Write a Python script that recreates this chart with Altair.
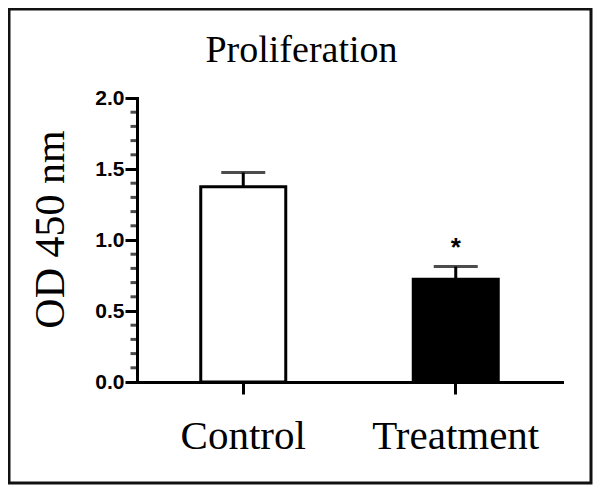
import altair as alt
import pandas as pd

groups = ["Control", "Treatment"]
means = [1.375, 0.723]
errors = [0.10, 0.09]
fills = ["white", "black"]
sig = ["", "*"]
y_major = [0.0, 0.5, 1.0, 1.5, 2.0]
y_minor = [0.1, 0.2, 0.3, 0.4, 0.6, 0.7, 0.8, 0.9, 1.1, 1.2, 1.3, 1.4, 1.6, 1.7, 1.8, 1.9]

df = pd.DataFrame({
    "group": groups,
    "mean": means,
    "upper": [m + e for m, e in zip(means, errors)],
    "fill": fills,
    "sig": sig,
})
minor_df = pd.DataFrame({"v": y_minor})
frame_df = pd.DataFrame({"a": [0]})

yscale = alt.Scale(domain=[0, 2], nice=False, zero=True)
yaxis = alt.Axis(
    values=y_major, format=".1f", title="OD 450 nm",
    titleFont="Liberation Serif", titleFontSize=42, titleFontWeight="normal",
    titleColor="black", titleAngle=270, titleX=-74, titleY=131,
    titleBaseline="alphabetic", titleAlign="center",
    labelFont="Liberation Sans", labelFontSize=21, labelFontWeight="bold",
    labelColor="black", labelPadding=1,
    tickSize=12, tickWidth=3, tickColor="black",
    domainWidth=3, domainColor="black", domainCap="square", grid=False,
)
xscale = alt.Scale(paddingInner=0.6, paddingOuter=0.3)
xaxis = alt.Axis(
    title=None, labelAngle=0, labelFont="Liberation Serif", labelFontSize=41,
    labelColor="black", labelPadding=22, tickSize=12, tickWidth=3,
    tickColor="black", domainWidth=3, domainColor="black", domainCap="square",
)
X = alt.X("group:N", sort=groups, scale=xscale, axis=xaxis)

base = alt.Chart(df)
bars = base.mark_bar(stroke="black", strokeWidth=3).encode(
    x=X, y=alt.Y("mean:Q", scale=yscale, axis=yaxis),
    fill=alt.Fill("fill:N", scale=None),
)
err = base.mark_rule(strokeWidth=3, color="black").encode(
    x=X, y=alt.Y("mean:Q", scale=yscale, axis=yaxis), y2="upper:Q"
)
cap = base.mark_tick(thickness=3, size=44, color="black", orient="horizontal").encode(
    x=X, y=alt.Y("upper:Q", scale=yscale, axis=yaxis)
)
star = base.mark_text(font="Liberation Sans", fontSize=26, fontWeight="bold",
                      baseline="alphabetic", dy=-11, color="black").encode(
    x=X, y=alt.Y("upper:Q", scale=yscale, axis=yaxis), text="sig:N"
)
minor = alt.Chart(minor_df).mark_tick(thickness=3, size=7, color="black",
                                      orient="horizontal", clip=False).encode(
    y=alt.Y("v:Q", scale=yscale, axis=yaxis), x=alt.value(-3)
)
frame = alt.Chart(frame_df).mark_rect(fillOpacity=0, stroke="#111", strokeWidth=3, clip=False).encode(
    x=alt.value(-128), x2=alt.value(454), y=alt.value(-89), y2=alt.value(385)
)

chart = alt.layer(frame, bars, err, cap, star, minor).properties(
    width=425, height=284,
    title=alt.TitleParams("Proliferation", font="Liberation Serif", fontSize=38,
                          fontWeight="normal", color="black", anchor="middle",
                          frame="group", dx=-48, offset=0, dy=92, baseline="alphabetic"),
    autosize=alt.AutoSizeParams(type="none"),
    padding={"left": 129, "top": 90, "right": 31, "bottom": 105},
).configure(background="white", view=alt.ViewConfig(stroke=None))

chart.save("out.html", embed_options={"renderer": "svg", "actions": False})
